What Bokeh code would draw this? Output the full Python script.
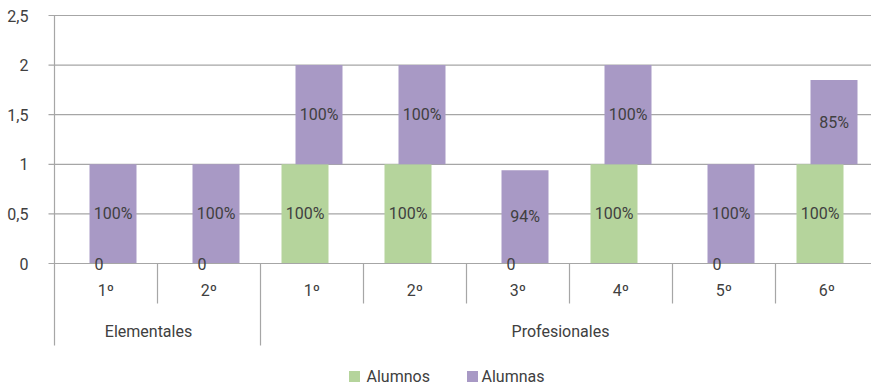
from bokeh.plotting import figure
from bokeh.models import ColumnDataSource, FixedTicker
from bokeh.core.properties import value
from bokeh.embed import file_html
from bokeh.resources import INLINE

# ---- data ----
groups = ["Elementales", "Profesionales"]
group_sizes = [2, 6]
courses = ["1º", "2º", "1º", "2º", "3º", "4º", "5º", "6º"]
alumnos = [0, 0, 1, 1, 0, 1, 0, 1]
alumnas = [1, 1, 1, 1, 0.94, 1, 1, 0.85]
alumnos_labels = ["0", "0", "100%", "100%", "0", "100%", "0", "100%"]
alumnas_labels = ["100%", "100%", "100%", "100%", "94%", "100%", "100%", "85%"]
series_names = ["Alumnos", "Alumnas"]
y_ticks = [0, 0.5, 1, 1.5, 2, 2.5]
y_tick_labels = ["0", "0,5", "1", "1,5", "2", "2,5"]

GREEN = "#b5d49c"
PURPLE = "#a899c5"
GRID = "#a6a6a6"
TEXT = "#404040"
FONT = "Roboto"
FS = "16px"

# ---- geometry (pixel helpers) ----
CAT_PX = 103.0       # pixels per category
UNIT_PX = 99.2       # pixels per y unit
W, H = 871, 388
LEFT = 47            # frame left edge in page px
ORIGIN_X = 54        # page x of x=0
ORIGIN_Y = 263       # page y of y=0
x0 = (LEFT - ORIGIN_X) / CAT_PX
x1 = x0 + (W - LEFT) / CAT_PX
y1 = ORIGIN_Y / UNIT_PX
y0 = (ORIGIN_Y - H) / UNIT_PX

def py(page_y):
    return (ORIGIN_Y - page_y) / UNIT_PX

def px(page_x):
    return (page_x - ORIGIN_X) / CAT_PX

p = figure(width=W, height=H, x_range=(x0, x1), y_range=(y0, y1),
           output_backend="svg", toolbar_location=None,
           x_axis_location=None, min_border_left=LEFT, min_border_right=0,
           min_border_top=0, min_border_bottom=0)
p.outline_line_color = None
p.xgrid.visible = False
p.ygrid.visible = False

yax = p.yaxis[0]
yax.ticker = FixedTicker(ticks=y_ticks)
yax.major_label_overrides = {t: l for t, l in zip(y_ticks, y_tick_labels)}
yax.axis_line_color = None
yax.major_tick_line_color = None
yax.minor_tick_line_color = None
yax.major_label_standoff = 13
yax.major_label_text_font = FONT
yax.major_label_text_font_size = FS
yax.major_label_text_color = TEXT

n = len(courses)
# gridlines (with outer tick stubs)
gl = y_ticks[1:]
p.segment(x0=[px(48)] * len(gl), y0=gl, x1=[x1] * len(gl), y1=gl,
          line_color=GRID, line_width=1.2)

off = 7 / CAT_PX
bw = 47 / CAT_PX
centers = [i + 0.5 for i in range(n)]
tops = [a + b for a, b in zip(alumnos, alumnas)]
src = ColumnDataSource(dict(
    xg=[c - off for c in centers], xp=[c + off for c in centers],
    alumnos=alumnos, alumnas=alumnas, tops=tops,
    mg=[a / 2 for a in alumnos], mp=[a + b / 2 for a, b in zip(alumnos, alumnas)],
    lg=alumnos_labels, lp=alumnas_labels))

p.vbar(x="xg", bottom=0, top="alumnos", width=bw, source=src,
       fill_color=GREEN, line_color=None)
p.vbar(x="xp", bottom="alumnos", top="tops", width=bw, source=src,
       fill_color=PURPLE, line_color=None)

# axis line at zero
p.segment(x0=[px(48)], y0=[0], x1=[x1], y1=[0], line_color=GRID, line_width=1.2)

p.text(x="xg", y="mg", text="lg", source=src, text_align="center",
       text_baseline="middle", text_font=value(FONT), text_font_size=FS,
       text_color=TEXT)
p.text(x="xp", y="mp", text="lp", source=src, text_align="center",
       text_baseline="middle", text_font=value(FONT), text_font_size=FS,
       text_color=TEXT)

# category separators and labels
group_bounds = []
acc = 0
for s in group_sizes[:-1]:
    acc += s
    group_bounds.append(acc)
small = [b for b in range(1, n) if b not in group_bounds]
p.segment(x0=small, y0=[0] * len(small), x1=small, y1=[py(303)] * len(small),
          line_color=GRID, line_width=1.2)
gb = [0] + group_bounds
p.segment(x0=gb, y0=[0] * len(gb), x1=gb, y1=[py(345)] * len(gb),
          line_color=GRID, line_width=1.2)
# left vertical line (y axis)
p.segment(x0=[0], y0=[0], x1=[0], y1=[2.5], line_color=GRID, line_width=1.2)

p.text(x=centers, y=[py(290)] * n, text=courses, text_align="center",
       text_baseline="middle", text_font=value(FONT), text_font_size=FS,
       text_color=TEXT)
gcenters = []
acc = 0
for s in group_sizes:
    gcenters.append(acc + s / 2 - 9 / CAT_PX)
    acc += s
p.text(x=gcenters, y=[py(331)] * len(groups), text=groups, text_align="center",
       text_baseline="middle", text_font=value(FONT), text_font_size=FS,
       text_color=TEXT)

# legend
leg_y = py(376)
p.rect(x=[px(354), px(472)], y=[leg_y, leg_y], width=11, height=11,
       width_units="screen", height_units="screen",
       fill_color=[GREEN, PURPLE], line_color=None)
p.text(x=[px(366), px(481)], y=[leg_y, leg_y], text=series_names,
       text_align="left", text_baseline="middle", text_font=value(FONT),
       text_font_size=FS, text_color=TEXT)

open("out.html", "w").write(file_html(p, INLINE))
